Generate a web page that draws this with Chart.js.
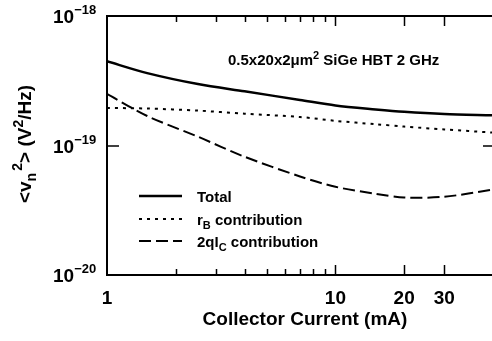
<!DOCTYPE html>
<html>
<head>
<meta charset="utf-8">
<script src="https://cdn.jsdelivr.net/npm/chart.js@4.4.1/dist/chart.umd.min.js"></script>
<style>
  html, body { margin: 0; padding: 0; background: #fff; }
  canvas { display: block; }
</style>
</head>
<body>
<canvas id="noise" width="492" height="341"></canvas>
<script>
// collector current (mA) and noise voltage spectral density (V^2/Hz)
const currentMA = [1, 1.5, 2.5, 4, 7, 10, 15, 20, 30, 48.5];
const totalNoise = [4.47e-19, 3.62e-19, 2.98e-19, 2.62e-19, 2.25e-19, 2.04e-19, 1.90e-19, 1.82e-19, 1.75e-19, 1.71e-19];
const rbNoise = [1.95e-19, 1.93e-19, 1.86e-19, 1.76e-19, 1.66e-19, 1.55e-19, 1.46e-19, 1.40e-19, 1.33e-19, 1.26e-19];
const shotNoise = [2.50e-19, 1.69e-19, 1.17e-19, 8.19e-20, 5.77e-20, 4.80e-20, 4.24e-20, 3.97e-20, 4.02e-20, 4.55e-20];

const xLabelTicks = [1, 10, 20, 30];
const xMinorTicks = [2, 3, 4, 5, 6, 7, 8, 9];
const xMajorTicks = [10, 20, 30];
const yLabelTicks = [1e-18, 1e-19, 1e-20];
const yExponents = ['\u221218', '\u221219', '\u221220'];

const FONT = '"Liberation Sans", Arial, sans-serif';

// draws a run of text pieces; each piece has its own size and baseline shift
function richWidth(ctx, parts) {
    let w = 0;
    for (const p of parts) {
        ctx.font = `bold ${p.size}px ${FONT}`;
        w += ctx.measureText(p.t).width;
    }
    return w;
}
function drawRich(ctx, parts, x, y) {
    ctx.textBaseline = 'alphabetic';
    ctx.textAlign = 'left';
    for (const p of parts) {
        ctx.font = `bold ${p.size}px ${FONT}`;
        ctx.fillText(p.t, x, y + (p.dy || 0));
        x += ctx.measureText(p.t).width;
    }
}

const framePlugin = {
    id: 'frame',
    afterDraw(chart) {
        const { ctx, chartArea: a, scales } = chart;
        const xs = scales.x, ys = scales.y;
        ctx.save();
        ctx.strokeStyle = '#000';
        ctx.fillStyle = '#000';

        // frame (right edge falls outside the picture)
        ctx.lineWidth = 2;
        ctx.beginPath();
        ctx.moveTo(a.right + 2, a.top);
        ctx.lineTo(a.left, a.top);
        ctx.lineTo(a.left, a.bottom);
        ctx.lineTo(a.right + 2, a.bottom);
        ctx.stroke();

        // inward ticks
        ctx.lineWidth = 1.5;
        ctx.beginPath();
        const xt = (v, len) => {
            const px = Math.round(xs.getPixelForValue(v)) + 0.5;
            ctx.moveTo(px, a.top); ctx.lineTo(px, a.top + len);
            ctx.moveTo(px, a.bottom); ctx.lineTo(px, a.bottom - len);
        };
        xMinorTicks.forEach(v => xt(v, 6));
        xMajorTicks.forEach(v => xt(v, 10));
        const py = Math.round(ys.getPixelForValue(1e-19));
        ctx.moveTo(a.left, py); ctx.lineTo(a.left + 12, py);
        ctx.moveTo(a.right, py); ctx.lineTo(a.right - 9, py);
        ctx.stroke();

        // x tick labels
        ctx.textAlign = 'center';
        ctx.textBaseline = 'alphabetic';
        ctx.font = `bold 19px ${FONT}`;
        xLabelTicks.forEach(v => ctx.fillText(String(v), xs.getPixelForValue(v), 304));

        // y tick labels 10^n
        yLabelTicks.forEach((v, i) => {
            const y = ys.getPixelForValue(v);
            drawRich(ctx, [
                { t: '10', size: 19, dy: 7 },
                { t: yExponents[i], size: 13, dy: -2 }
            ], 53, y);
        });

        // axis titles
        ctx.textAlign = 'center';
        ctx.font = `bold 19px ${FONT}`;
        ctx.fillText('Collector Current (mA)', 305, 325);

        const yTitle = [
            { t: '<v', size: 19 },
            { t: 'n', size: 14, dy: 5 },
            { t: ' ', size: 8 },
            { t: '2', size: 14, dy: -9 },
            { t: '>', size: 19 },
            { t: ' (V', size: 19 },
            { t: '2', size: 14, dy: -8 },
            { t: '/Hz)', size: 19 }
        ];
        ctx.save();
        ctx.translate(31, 144);
        ctx.rotate(-Math.PI / 2);
        drawRich(ctx, yTitle, -richWidth(ctx, yTitle) / 2, 0);
        ctx.restore();

        // device annotation
        drawRich(ctx, [
            { t: '0.5x20x2\u03bcm', size: 15 },
            { t: '2', size: 11, dy: -6 },
            { t: ' SiGe HBT 2 GHz', size: 15 }
        ], 228, 65);

        // legend, line styles taken from the datasets
        const rows = [
            [{ t: 'Total', size: 15 }],
            [{ t: 'r', size: 15 }, { t: 'B', size: 11, dy: 4 }, { t: ' contribution', size: 15 }],
            [{ t: '2qI', size: 15 }, { t: 'C', size: 11, dy: 4 }, { t: ' contribution', size: 15 }]
        ];
        const rowY = [196, 219, 241];
        chart.data.datasets.forEach((ds, i) => {
            ctx.lineWidth = ds.borderWidth;
            ctx.setLineDash(ds.borderDash || []);
            ctx.beginPath();
            ctx.moveTo(139, rowY[i]);
            ctx.lineTo(182, rowY[i]);
            ctx.stroke();
            ctx.setLineDash([]);
            drawRich(ctx, rows[i], 197, rowY[i] + 6);
        });

        ctx.restore();
    }
};

new Chart(document.getElementById('noise'), {
    type: 'line',
    data: {
        labels: currentMA,
        datasets: [
            { label: 'Total', data: totalNoise, borderColor: '#000', borderWidth: 2.5, borderDash: [] },
            { label: 'rB contribution', data: rbNoise, borderColor: '#000', borderWidth: 2, borderDash: [3, 5] },
            { label: '2qIC contribution', data: shotNoise, borderColor: '#000', borderWidth: 2, borderDash: [12, 5] }
        ].map(ds => Object.assign(ds, {
            data: ds.data.map((v, i) => ({ x: currentMA[i], y: v })),
            pointRadius: 0,
            tension: 0.3,
            fill: false
        }))
    },
    options: {
        responsive: false,
        animation: false,
        devicePixelRatio: 1,
        layout: { padding: { left: 107, right: 0, top: 16, bottom: 66 } },
        plugins: { legend: { display: false }, tooltip: { enabled: false } },
        scales: {
            x: { type: 'logarithmic', min: 1, max: 48.5, display: false },
            y: { type: 'logarithmic', min: 1e-20, max: 1e-18, display: false }
        }
    },
    plugins: [framePlugin]
});
</script>
</body>
</html>
